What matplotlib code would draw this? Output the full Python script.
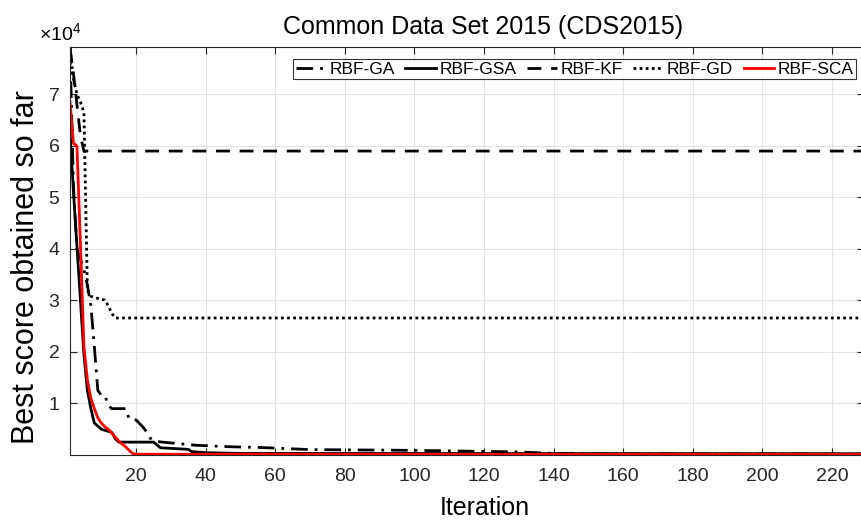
import matplotlib
matplotlib.use("Agg")
import matplotlib.pyplot as plt

plt.rcParams["font.family"] = ["Liberation Sans", "DejaVu Sans"]
plt.rcParams["mathtext.fontset"] = "custom"
plt.rcParams["mathtext.rm"] = "Liberation Sans"

# iteration breakpoints and best scores
ga_it = [1, 2, 3, 4, 5, 6, 7, 8, 9, 10, 11, 12, 13, 17, 18, 20, 21, 22, 23, 24, 25, 26,
         37, 47, 56, 70, 80, 100, 120, 130, 140, 150, 229]
ga_val = [79000, 52000, 40000, 38000, 36000, 33000, 29000, 21000, 12500, 11600, 11600, 9600,
          9000, 9000, 7000, 6800, 6100, 5400, 4500, 3300, 2800, 2600,
          1900, 1600, 1450, 1050, 1000, 900, 700, 600, 300, 200, 150]

gsa_it = [1, 2, 3, 4, 5, 6, 7, 8, 9, 10, 11, 12, 13, 14, 15, 25, 27, 35, 36, 40, 50, 229]
gsa_val = [63000, 51000, 40500, 30000, 19500, 12500, 9000, 6200, 5600, 5000, 4800, 4600,
           4400, 3200, 2500, 2500, 1400, 1100, 650, 450, 300, 250]

kf_it = [1, 2, 3, 4, 5, 229]
kf_val = [79000, 74000, 68000, 62000, 59000, 59000]

gd_it = [1, 2, 3, 4, 5, 6, 7, 8, 9, 10, 11, 12, 13, 14, 229]
gd_val = [79000, 73000, 70000, 68500, 66500, 32000, 30800, 30600, 30400, 30200, 30100,
          29000, 27500, 26600, 26600]

sca_it = [1, 2, 3, 4, 5, 6, 7, 8, 9, 10, 11, 12, 13, 14, 15, 16, 17, 18, 19, 20, 229]
sca_val = [68500, 60500, 60000, 41000, 21000, 14600, 11000, 9000, 7200, 6200, 5500, 5000,
           4300, 3500, 2700, 2100, 1600, 900, 300, 150, 100]

xticks = list(range(20, 221, 20))
yticks = [10000, 20000, 30000, 40000, 50000, 60000, 70000]
ytick_labels = ["1", "2", "3", "4", "5", "6", "7"]

fig = plt.figure(figsize=(8.61, 5.21), dpi=100)
# the axes runs a little past the right edge of the picture, as in the original
ax = fig.add_axes([70/861, 1-455/521, 794/861, 408/521])

ax.plot(ga_it, ga_val, color="black", lw=2, linestyle=(0, (6, 2.5, 1, 2.5)), label="RBF-GA")
ax.plot(gsa_it, gsa_val, color="black", lw=2, linestyle="-", label="RBF-GSA")
ax.plot(kf_it, kf_val, color="black", lw=2, linestyle=(0, (5, 3.5)), label="RBF-KF")
ax.plot(gd_it, gd_val, color="black", lw=2, linestyle=(0, (1, 1.2)), label="RBF-GD")
ax.plot(sca_it, sca_val, color="red", lw=2, linestyle="-", label="RBF-SCA")

ax.set_xlim(1, 229.2)
ax.set_ylim(0, 79200)
ax.set_xticks(xticks)
ax.set_yticks(yticks)
ax.set_yticklabels(ytick_labels)
ax.tick_params(direction="in", top=True, right=True, labelsize=14, length=5,
               color="#262626", labelcolor="#262626")
ax.tick_params(axis="x", pad=9.5)
ax.tick_params(axis="y", pad=7.5)
ax.grid(True, color="#e3e3e3", lw=0.8)
for s in ax.spines.values():
    s.set_color("#262626")
    s.set_linewidth(0.8)

ax.set_title("Common Data Set 2015 (CDS2015)", fontsize=18, pad=9.5, x=0.52)
ax.set_xlabel("Iteration", fontsize=18, labelpad=7.5, x=0.522)
ax.set_ylabel("Best score obtained so far", fontsize=22)
ax.yaxis.set_label_coords(-0.037, 0.46)
fig.text(39/861, 1-34/521, r"$\times10^{4}$", fontsize=14, va="center", ha="left")

leg = ax.legend(loc="upper right", bbox_to_anchor=(0.99, 0.971), ncol=5, fontsize=12.5,
                frameon=True, fancybox=False, edgecolor="black", handlelength=1.75,
                handletextpad=0.2, columnspacing=0.6, borderpad=0.15, borderaxespad=0)
leg.get_frame().set_linewidth(0.8)

fig.savefig("out.png", dpi=100)
